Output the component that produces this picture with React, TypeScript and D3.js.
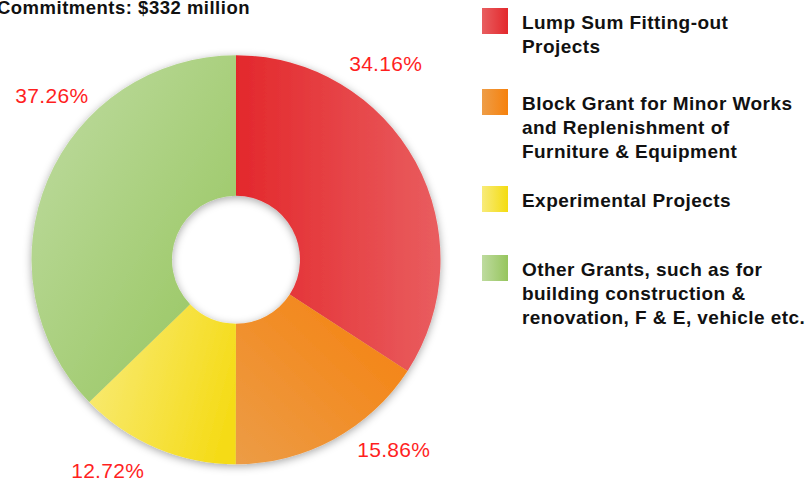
import React from "react";
import * as d3 from "d3";

const title = "Commitments: $332 million";
const categories = [
  "Lump Sum Fitting-out Projects",
  "Block Grant for Minor Works and Replenishment of Furniture & Equipment",
  "Experimental Projects",
  "Other Grants, such as for building construction & renovation, F & E, vehicle etc.",
];
const legendLines = [
  ["Lump Sum Fitting-out", "Projects"],
  ["Block Grant for Minor Works", "and Replenishment of", "Furniture & Equipment"],
  ["Experimental Projects"],
  ["Other Grants, such as for", "building construction &", "renovation, F & E, vehicle etc."],
];
const values = [34.16, 15.86, 12.72, 37.26];

// styling / layout
const sliceGrad = [
  { x1: 0, y1: 0, x2: 1, y2: 0, c1: "#e3282c", c2: "#e95d5f" },
  { x1: 0, y1: 1, x2: 1, y2: 0, c1: "#ec9c46", c2: "#f6800c" },
  { x1: 0, y1: 0.3, x2: 1, y2: 0.6, c1: "#f8ea74", c2: "#f5db16" },
  { x1: 0, y1: 0, x2: 1, y2: 1, c1: "#c0dca3", c2: "#94c45a" },
];
const swatchGrad = [
  ["#e85e60", "#e3282c"],
  ["#ee9d47", "#f6810c"],
  ["#f8eb7a", "#f4dc10"],
  ["#bedb9f", "#96c55d"],
];
const labelAngleDeg = [37.3, 140.3, 211.3, 311.8];
const legendTops = [8, 89, 186, 255];

const W = 807;
const H = 479;
const cx = 236;
const cy = 259.7;
const R = 204.5;
const r0 = 64;
const labelR = 247;
const FONT = "'Liberation Sans', Arial, Helvetica, sans-serif";

export default function App() {
  const pie = d3.pie<number>().sort(null).value((d) => d);
  const arcs = pie(values);
  const arc = d3.arc<d3.PieArcDatum<number>>().innerRadius(r0).outerRadius(R);

  return (
    <svg
      width={W}
      height={H}
      style={{ position: "absolute", left: 0, top: 0, background: "#fff" }}
      fontFamily={FONT}
    >
      <defs>
        <filter id="shadow" x="-20%" y="-20%" width="140%" height="140%">
          <feDropShadow dx="0" dy="2" stdDeviation="4" floodColor="#000" floodOpacity="0.35" />
        </filter>
        {sliceGrad.map((g, i) => (
          <linearGradient key={i} id={`sg${i}`} x1={g.x1} y1={g.y1} x2={g.x2} y2={g.y2}>
            <stop offset="0" stopColor={g.c1} />
            <stop offset="1" stopColor={g.c2} />
          </linearGradient>
        ))}
        {swatchGrad.map((g, i) => (
          <linearGradient key={i} id={`lg${i}`} x1="0" y1="0" x2="1" y2="0">
            <stop offset="0" stopColor={g[0]} />
            <stop offset="1" stopColor={g[1]} />
          </linearGradient>
        ))}
      </defs>

      <text
        x={250}
        y={14}
        textAnchor="end"
        fontWeight="bold"
        fontSize={18.5}
        letterSpacing={0.5}
        fill="#111"
      >
        {title}
      </text>

      <g transform={`translate(${cx},${cy})`} filter="url(#shadow)">
        {arcs.map((a, i) => (
          <path key={i} d={arc(a) || ""} fill={`url(#sg${i})`} />
        ))}
      </g>

      {arcs.map((a, i) => {
        const ang = (labelAngleDeg[i] * Math.PI) / 180;
        const x = cx + labelR * Math.sin(ang);
        const y = cy - labelR * Math.cos(ang);
        return (
          <text
            key={i}
            x={x}
            y={y}
            textAnchor="middle"
            dominantBaseline="central"
            fontSize={21}
            letterSpacing={0.3}
            fill="#ff1f1f"
          >
            {`${values[i].toFixed(2)}%`}
          </text>
        );
      })}

      {categories.map((c, i) => (
        <g key={c} transform={`translate(482,${legendTops[i]})`}>
          <rect width={26} height={26} fill={`url(#lg${i})`} />
          {legendLines[i].map((ln, j) => (
            <text
              key={j}
              x={40}
              y={21 + j * 24}
              fontWeight="bold"
              fontSize={19}
              letterSpacing={0.45}
              fill="#111"
            >
              {ln}
            </text>
          ))}
        </g>
      ))}
    </svg>
  );
}
